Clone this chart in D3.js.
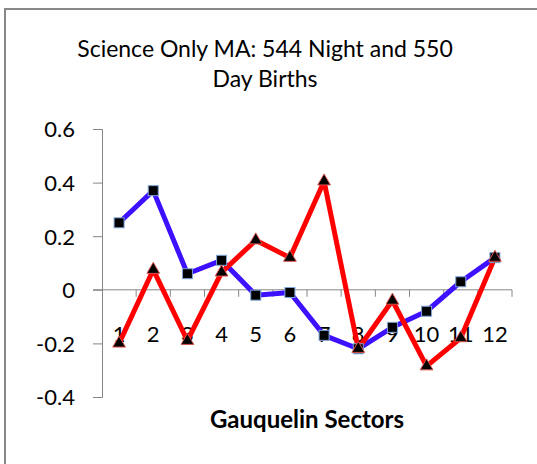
<!DOCTYPE html>
<html lang="en">
  <head>
    <meta charset="utf-8">
    <title>Science Only MA</title>
    <script src="https://d3js.org/d3.v7.min.js"></script>
    <style type="text/css">
        body {
          margin: 0;
          background: #fff;
        }
        .chart text {
          font-family: Lato, "Liberation Sans", sans-serif;
          fill: #000;
        }
        .axis path,
        .axis line {
          stroke: #868686;
          stroke-width: 1px;
        }
    </style>
  </head>
  <body>
    <div class="chart" id="chart"></div>

    <script>
        // values
        var sectors = ["1", "2", "3", "4", "5", "6", "7", "8", "9", "10", "11", "12"];
        var nightBirths = [0.25, 0.37, 0.06, 0.11, -0.02, -0.01, -0.17, -0.22, -0.14, -0.08, 0.03, 0.12];
        var dayBirths = [-0.2, 0.075, -0.19, 0.065, 0.185, 0.12, 0.405, -0.22, -0.04, -0.285, -0.18, 0.12];
        var yTicks = [-0.4, -0.2, 0, 0.2, 0.4, 0.6];

        var width = 537, height = 464;
        var margin = {top: 129, right: 25, bottom: 67, left: 102};

        var svg = d3.select("#chart").append("svg")
            .attr("width", width)
            .attr("height", height);

        // chart frame (cut off on the right and bottom)
        svg.append("rect")
            .attr("x", 5).attr("y", 9)
            .attr("width", width + 20).attr("height", height + 20)
            .attr("fill", "#fff")
            .attr("stroke", "#888")
            .attr("stroke-width", 2);

        var x = d3.scaleBand()
            .domain(sectors)
            .range([margin.left, width - margin.right]);

        var y = d3.scaleLinear()
            .domain([-0.4, 0.6])
            .range([height - margin.bottom, margin.top]);

        // title
        var title = svg.append("text")
            .attr("text-anchor", "middle")
            .style("font-size", "23px");
        title.append("tspan").attr("x", 265).attr("y", 57).text("Science Only MA: 544 Night and 550");
        title.append("tspan").attr("x", 265).attr("y", 87).text("Day Births");

        // y axis
        var yAxis = svg.append("g")
            .attr("class", "axis")
            .attr("transform", "translate(" + margin.left + ",0)")
            .call(d3.axisLeft(y).tickValues(yTicks).tickSize(9).tickPadding(18)
                .tickFormat(function(d) { return d === 0 ? "0" : d3.format(".1f")(d).replace("\u2212", "-"); }));
        yAxis.selectAll("text").style("font-size", "22px").attr("dy", "0.36em");

        // x axis at zero, ticks between categories
        var xAxis = svg.append("g")
            .attr("class", "axis")
            .attr("transform", "translate(0," + y(0) + ")");
        xAxis.append("line")
            .attr("x1", x.range()[0] - 9).attr("x2", x.range()[1]);
        xAxis.selectAll(".tick")
            .data(sectors)
            .enter().append("line")
              .attr("class", "tick")
              .attr("x1", function(d) { return x(d) + x.bandwidth(); })
              .attr("x2", function(d) { return x(d) + x.bandwidth(); })
              .attr("y1", 0).attr("y2", 7);

        var line = d3.line()
            .x(function(d, i) { return x(sectors[i]) + x.bandwidth() / 2; })
            .y(function(d) { return y(d); });

        // category labels sit below the axis
        svg.append("g").selectAll("text")
            .data(sectors)
            .enter().append("text")
              .attr("x", function(d) { return x(d) + x.bandwidth() / 2; })
              .attr("y", y(0) + 52)
              .attr("text-anchor", "middle")
              .style("font-size", "22px")
              .text(function(d) { return d; });

        // night births line (blue, squares)
        svg.append("path")
            .datum(nightBirths)
            .attr("fill", "none")
            .attr("stroke", "#3d10ff")
            .attr("stroke-width", 5)
            .attr("stroke-linejoin", "round")
            .attr("d", line);

        // day births line (red, triangles)
        svg.append("path")
            .datum(dayBirths)
            .attr("fill", "none")
            .attr("stroke", "#ff0000")
            .attr("stroke-width", 5)
            .attr("stroke-linejoin", "round")
            .attr("d", line);

        svg.append("g").selectAll("rect")
            .data(nightBirths)
            .enter().append("rect")
              .attr("x", function(d, i) { return x(sectors[i]) + x.bandwidth() / 2 - 5; })
              .attr("y", function(d) { return y(d) - 5; })
              .attr("width", 10).attr("height", 10)
              .attr("fill", "#000")
              .attr("stroke", "#7ea6d8")
              .attr("stroke-width", 1);

        var tri = d3.symbol().type(d3.symbolTriangle).size(70);
        svg.append("g").selectAll("path")
            .data(dayBirths)
            .enter().append("path")
              .attr("transform", function(d, i) {
                  return "translate(" + (x(sectors[i]) + x.bandwidth() / 2) + "," + y(d) + ")";
              })
              .attr("d", tri)
              .attr("fill", "#000")
              .attr("stroke", "#d9534f")
              .attr("stroke-width", 1);

        // axis title
        svg.append("text")
            .attr("x", 307)
            .attr("y", 428)
            .attr("text-anchor", "middle")
            .style("font-size", "24px")
            .style("font-weight", "bold")
            .text("Gauquelin Sectors");
    </script>
  </body>
</html>
